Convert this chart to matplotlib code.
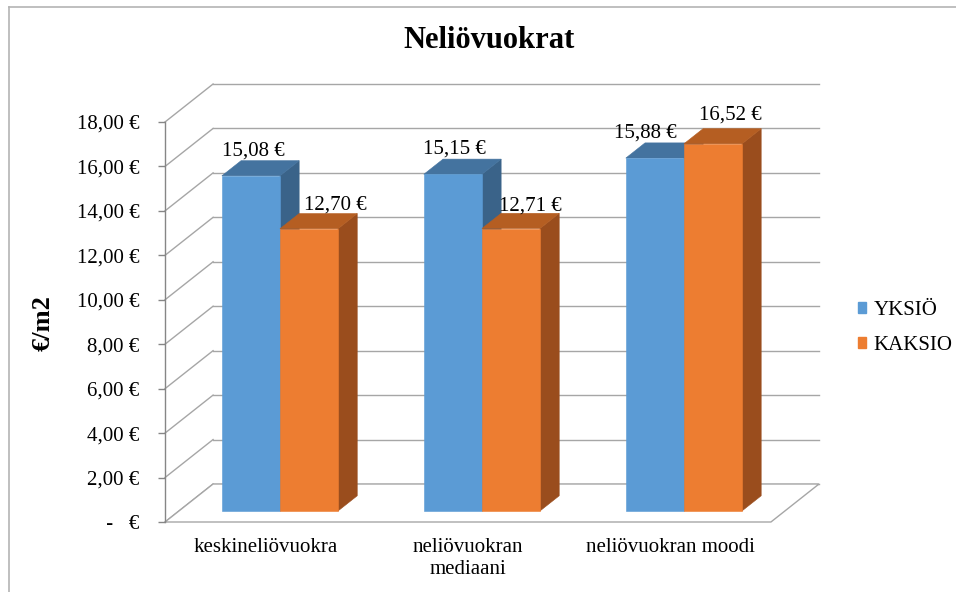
import matplotlib
matplotlib.use('Agg')
import matplotlib.pyplot as plt
from matplotlib.patches import Polygon, Patch
from matplotlib.lines import Line2D

# rent per square metre, three statistics, two flat types
categories = ['keskineliövuokra', 'neliövuokran\nmediaani', 'neliövuokran moodi']
series_names = ['YKSIÖ', 'KAKSIO']
yksio = [15.08, 15.15, 15.88]
kaksio = [12.70, 12.71, 16.52]
ytick_values = [0, 2, 4, 6, 8, 10, 12, 14, 16, 18]

plt.rcParams['font.family'] = ['Liberation Serif', 'DejaVu Serif']

front_colors = ['#5B9BD5', '#ED7D31']
top_colors = ['#44739F', '#B55E22']
side_colors = ['#3A6389', '#9A4D1D']
grid_color = '#A6A6A6'

# oblique projection of the depth axis, in data units
DX = 0.238
DY = 1.71
BAR_W = 0.2875
D0, D1 = 0.29, 0.69   # front and back of the bars as fraction of floor depth

# label nudges (pixels) so the values sit like the original Excel layout
label_nudge = [[(2, 5), (2, 6), (-10, 5)],
               [(26, 4), (19, 3), (17, 9)]]

W, H = 956, 592
fig = plt.figure(figsize=(W / 100, H / 100), dpi=100)
ax = fig.add_axes([165 / W, (H - 522) / H, (819 - 165) / W, (522 - 84) / H])
ax.set_xlim(0, 3 + DX)
ax.set_ylim(0, ytick_values[-1] + DY)
ax.patch.set_visible(False)

# chart border
fig.add_artist(Line2D([9 / W, 1], [1 - 7 / H, 1 - 7 / H], color='#B4B4B4', lw=1.2))
fig.add_artist(Line2D([9 / W, 9 / W], [0, 1 - 7 / H], color='#B4B4B4', lw=1.2))

# back wall and side wall gridlines
for v in ytick_values:
    ax.plot([0, DX], [v, v + DY], color=grid_color, lw=1.0, zorder=1, clip_on=False)
    ax.plot([DX, 3 + DX], [v + DY, v + DY], color=grid_color, lw=1.0, zorder=1,
            clip_on=False)

# floor
ax.add_patch(Polygon([(0, 0), (3, 0), (3 + DX, DY), (DX, DY)], closed=True,
                     facecolor='white', edgecolor=grid_color, lw=1.0, zorder=2,
                     clip_on=False))


def draw_bar(x0, value, k):
    fx = x0 + D0 * DX
    fy = D0 * DY
    ddx = (D1 - D0) * DX
    ddy = (D1 - D0) * DY
    top = fy + value
    front = [(fx, fy), (fx + BAR_W, fy), (fx + BAR_W, top), (fx, top)]
    roof = [(fx, top), (fx + BAR_W, top), (fx + BAR_W + ddx, top + ddy), (fx + ddx, top + ddy)]
    side = [(fx + BAR_W, fy), (fx + BAR_W + ddx, fy + ddy),
            (fx + BAR_W + ddx, top + ddy), (fx + BAR_W, top)]
    for pts, col in ((side, side_colors[k]), (roof, top_colors[k]), (front, front_colors[k])):
        ax.add_patch(Polygon(pts, closed=True, facecolor=col, edgecolor=col,
                             lw=0.4, zorder=3, clip_on=False))


data = [yksio, kaksio]
for i in range(len(categories)):
    for k, vals in enumerate(data):
        x0 = i + 0.5 - BAR_W + k * BAR_W
        draw_bar(x0, vals[i], k)
        dxp, dyp = label_nudge[k][i]
        label = f'{vals[i]:.2f} €'.replace('.', ',')
        ax.annotate(label, xy=(x0 + BAR_W / 2 + D0 * DX, vals[i] + D1 * DY),
                    xytext=(dxp * 0.72, dyp * 0.72), textcoords='offset points',
                    ha='center', va='baseline', fontsize=15, color='black',
                    zorder=5, annotation_clip=False)

# axes: front vertical axis and category labels
for s in ('top', 'right', 'bottom'):
    ax.spines[s].set_visible(False)
ax.spines['left'].set_bounds(0, ytick_values[-1])
ax.spines['left'].set_color('#868686')
ax.spines['left'].set_linewidth(1.0)
ax.set_yticks(ytick_values)
ax.set_yticklabels([' -   €' if v == 0 else f'{v:.2f} €'.replace('.', ',')
                    for v in ytick_values])
ax.tick_params(axis='y', direction='out', length=5, width=1.0, color='#868686',
               pad=13.5, labelsize=15)
ax.set_xticks([0.5, 1.5, 2.5])
ax.set_xticklabels(categories, fontsize=15, linespacing=1.2)
ax.tick_params(axis='x', length=0, pad=11.5)

fig.text(489 / W, 1 - 40 / H, 'Neliövuokrat', ha='center', va='center',
         fontsize=22, fontweight='bold')
fig.text(43 / W, 1 - 323 / H, '€/m2', ha='center', va='center', rotation=90,
         fontsize=19, fontweight='bold')

handles = [Patch(facecolor=c, edgecolor=c) for c in front_colors]
fig.legend(handles, series_names, loc='center left',
           bbox_to_anchor=(858 / W, 1 - 328 / H), frameon=False, fontsize=15,
           handlelength=0.4, handleheight=0.4, handletextpad=0.35,
           labelspacing=0.75, borderpad=0, borderaxespad=0)

fig.savefig('out.png', dpi=100)
